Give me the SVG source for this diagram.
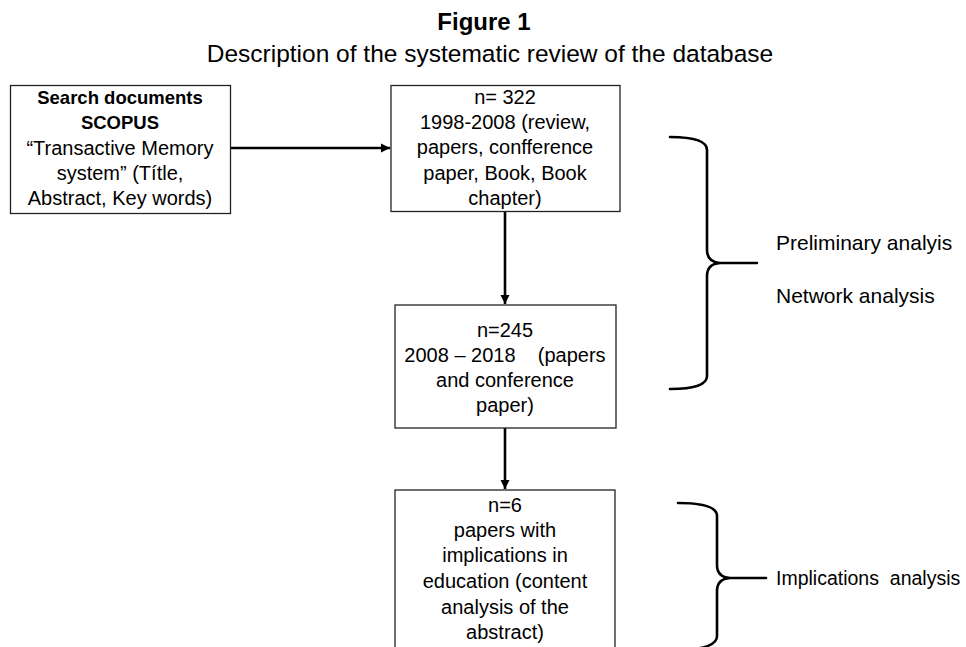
<svg xmlns="http://www.w3.org/2000/svg" width="966" height="647" viewBox="0 0 966 647">
<defs>
<style>
text{font-family:"Liberation Sans",Arial,sans-serif;fill:#000;white-space:pre}
.t{font-size:20px;text-anchor:middle}
.b{font-size:18.5px;font-weight:bold;text-anchor:middle}
.lbl{font-size:21px}
.box{fill:#fff;stroke:#222;stroke-width:1.3}
.conn{stroke:#000;stroke-width:2.6;fill:none}
.brace{stroke:#000;stroke-width:2.6;fill:none;stroke-linecap:round}
</style>
<marker id="ah" viewBox="0 0 10 10" refX="10" refY="5" markerWidth="3.5" markerHeight="3.5" orient="auto" markerUnits="strokeWidth">
<path d="M0,0 L10,5 L0,10 z" fill="#000"/>
</marker>
</defs>
<rect width="966" height="647" fill="#fff"/>
<g id="title">
<text x="484" y="30" style="font-size:24px;font-weight:bold;text-anchor:middle">Figure 1</text>
<text x="490" y="62" style="font-size:24.5px;text-anchor:middle">Description of the systematic review of the database</text>
</g>
<g id="connectors">
<line class="conn" x1="231" y1="148" x2="390" y2="148" marker-end="url(#ah)"/>
<line class="conn" x1="505" y1="211" x2="505" y2="304" marker-end="url(#ah)"/>
<line class="conn" x1="505" y1="428" x2="505" y2="489" marker-end="url(#ah)"/>
</g>
<g id="node-search">
<rect class="box" x="10.5" y="85.5" width="220" height="128"/>
<text class="b" x="120" y="104">Search documents</text>
<text class="b" x="120" y="129">SCOPUS</text>
<text class="t" x="120" y="155">“Transactive Memory</text>
<text class="t" x="120" y="180">system” (Títle,</text>
<text class="t" x="120" y="205">Abstract, Key words)</text>
</g>
<g id="node-322">
<rect class="box" x="391" y="85.5" width="229" height="126"/>
<text class="t" x="505" y="104">n= 322</text>
<text class="t" x="505" y="129">1998-2008 (review,</text>
<text class="t" x="505" y="154">papers, confference</text>
<text class="t" x="505" y="180">paper, Book, Book</text>
<text class="t" x="505" y="205">chapter)</text>
</g>
<g id="node-245">
<rect class="box" x="395" y="305" width="221" height="123"/>
<text class="t" x="505" y="337">n=245</text>
<text class="t" x="505" y="362">2008 – 2018    (papers</text>
<text class="t" x="505" y="387">and conference</text>
<text class="t" x="505" y="412">paper)</text>
</g>
<g id="node-6">
<rect class="box" x="395" y="490" width="220" height="170"/>
<text class="t" x="505" y="512">n=6</text>
<text class="t" x="505" y="537">papers with</text>
<text class="t" x="505" y="562">implications in</text>
<text class="t" x="505" y="588">education (content</text>
<text class="t" x="505" y="614">analysis of the</text>
<text class="t" x="505" y="639">abstract)</text>
</g>
<g id="brace-preliminary">
<path class="brace" d="M670,137 Q707,137 707,150 L707,250 Q707,262 720,263 L757,263 M720,263 Q707,264 707,276 L707,376 Q707,389 670,389"/>
<text class="lbl" x="776" y="250">Preliminary analyis</text>
<text class="lbl" x="776" y="303">Network analysis</text>
</g>
<g id="brace-implications">
<path class="brace" d="M678,503 Q717,503 717,516 L717,565 Q717,577 730,578 L766,578 M730,578 Q717,579 717,591 L717,636 Q717,649 680,650"/>
<text class="lbl" x="776" y="585" style="font-size:19.5px">Implications  analysis</text>
</g>
</svg>
